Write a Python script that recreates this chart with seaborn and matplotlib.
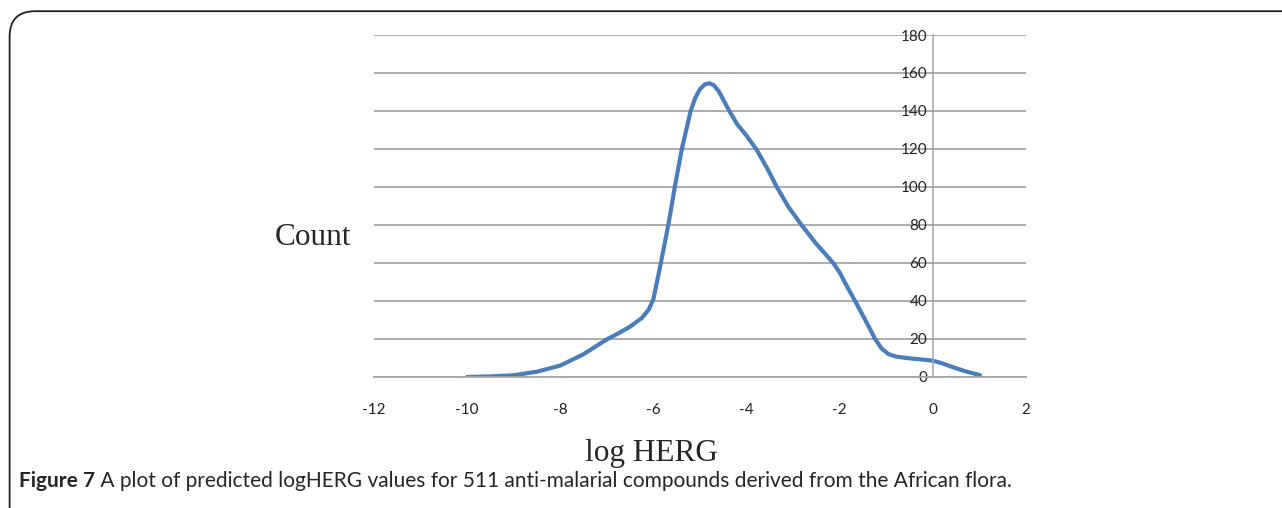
import numpy as np
import pandas as pd
import matplotlib
matplotlib.use("Agg")
import matplotlib.pyplot as plt
from matplotlib.patches import FancyBboxPatch
import seaborn as sns

# values
log_herg = [-10.0, -9.5, -9.0, -8.5, -8.0, -7.5, -7.0, -6.75, -6.5, -6.25, -6.1, -6.0,
            -5.84, -5.68, -5.54, -5.39, -5.2, -5.1, -5.0, -4.9, -4.8, -4.7, -4.6, -4.5,
            -4.37, -4.2, -4.0, -3.78, -3.55, -3.35, -3.1, -2.82, -2.5, -2.3, -2.14, -2.0,
            -1.85, -1.67, -1.45, -1.24, -1.1, -0.95, -0.78, -0.5, -0.28, 0.0, 0.2, 0.44, 0.7, 1.01]
count = [0.0, 0.3, 0.9, 2.8, 6.0, 12.0, 19.8, 23.0, 26.5, 31.0, 35.5, 41.0,
         60.0, 80.0, 100.0, 120.0, 140.0, 147.0, 151.5, 154.0, 154.6, 153.5, 150.5, 146.0,
         140.0, 133.0, 127.0, 119.5, 109.5, 100.0, 89.5, 80.0, 70.0, 64.5, 60.0, 55.0,
         48.0, 40.0, 30.0, 20.0, 15.0, 12.0, 10.7, 9.8, 9.3, 8.6, 7.2, 5.1, 3.0, 1.0]

x_ticks = [-12, -10, -8, -6, -4, -2, 0, 2]
y_ticks = [0, 20, 40, 60, 80, 100, 120, 140, 160, 180]

df = pd.DataFrame({"log HERG": log_herg, "Count": count})

sns.set_style("white")
plt.rcParams["font.family"] = ["Lato", "DejaVu Sans"]

fig = plt.figure(figsize=(12.82, 5.08), dpi=100)
ax = fig.add_axes([0.2917, 0.2579, 0.5086, 0.6732])

sns.lineplot(data=df, x="log HERG", y="Count", ax=ax, color="#4a7ebb",
             linewidth=3.0, sort=False)
ax.lines[0].set_solid_joinstyle("round")
ax.lines[0].set_solid_capstyle("round")

ax.set_xlim(-12, 2)
ax.set_ylim(0, 180)
ax.set_xticks(x_ticks)
ax.set_yticks(y_ticks)
ax.set_xticklabels([str(t) for t in x_ticks])
ax.set_yticklabels([str(t) for t in y_ticks])

grid_col = "#a6a6a6"
ax.grid(axis="y", color=grid_col, linewidth=1.3)
ax.set_axisbelow(True)
for s in ["top", "right"]:
    ax.spines[s].set_visible(False)
ax.spines["left"].set_position(("data", 0))
ax.spines["left"].set_color(grid_col)
ax.spines["left"].set_linewidth(1.1)
ax.spines["bottom"].set_color(grid_col)
ax.spines["bottom"].set_linewidth(1.3)

ax.tick_params(axis="x", direction="out", length=6, width=1.1, color=grid_col,
               labelsize=11, labelcolor="#222222", pad=13)
ax.tick_params(axis="y", length=0, labelsize=11, labelcolor="#222222", pad=4)

ax.set_xlabel("")
ax.set_ylabel("")

serif = ["Liberation Serif", "DejaVu Serif"]
fig.text(0.2145, 0.532, "Count", family=serif, fontsize=22.5, ha="left", va="center")
fig.text(0.5085, 0.108, "log HERG", family=serif, fontsize=22.5, ha="center", va="center")

# caption: bold label followed by the regular text
cap = fig.text(0.0145, 0.041, "Figure 7", fontsize=15, fontweight="bold",
               ha="left", va="baseline")
ax.annotate(" A plot of predicted logHERG values for 511 anti-malarial compounds "
            "derived from the African flora.", xy=(1, 0), xycoords=cap,
            va="bottom", ha="left", fontsize=15, annotation_clip=False)

# frame around the figure panel
frame = FancyBboxPatch((0.0075, -0.2), 1.1, 1.178, boxstyle="round,pad=0,rounding_size=0.02",
                       transform=fig.transFigure, fill=False, edgecolor="#222222",
                       linewidth=1.3, mutation_aspect=2.5)
fig.patches.append(frame)

fig.savefig("out.png", dpi=100)
